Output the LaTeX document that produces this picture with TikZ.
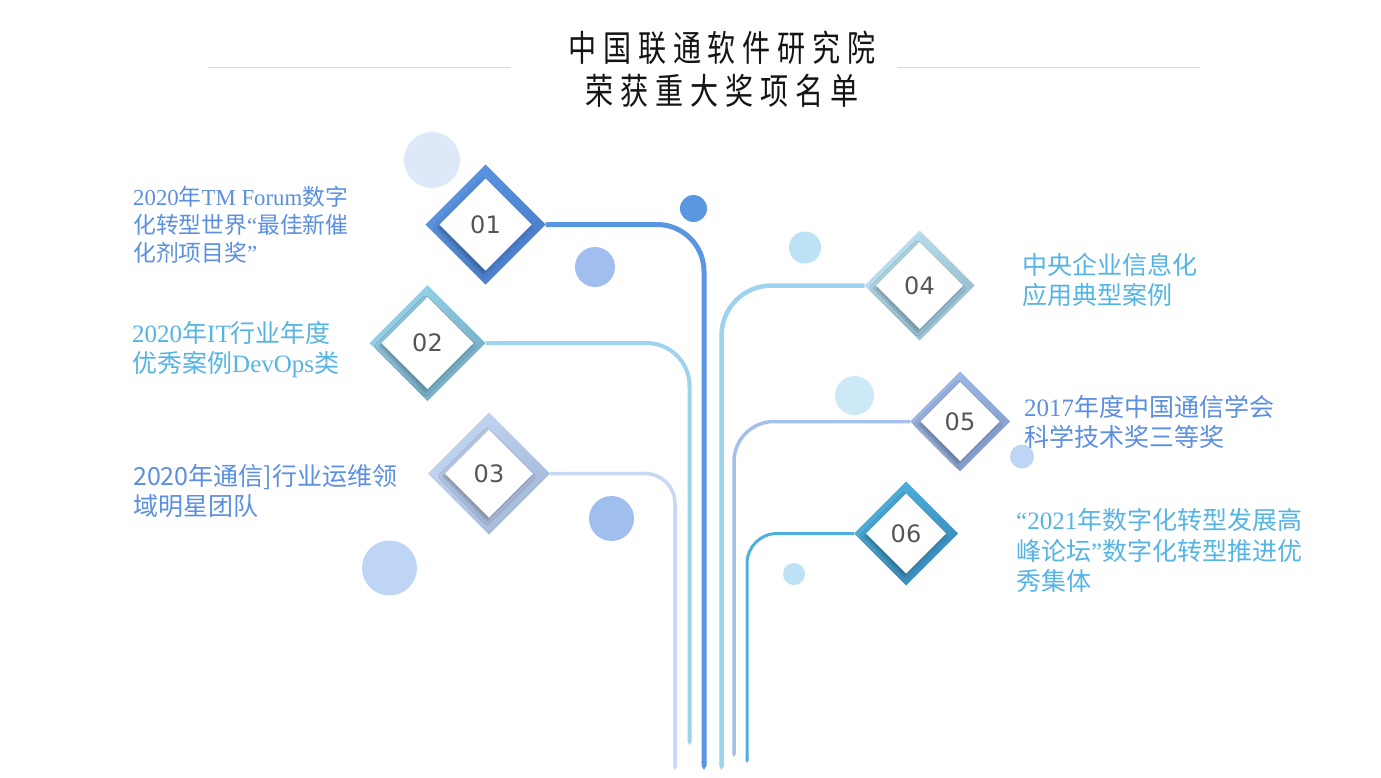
\documentclass[tikz,border=0pt]{standalone}
\usepackage{fontspec}
\setmainfont{Liberation Serif}
\newfontfamily\cjk{Noto Sans CJK SC}
\newfontfamily\titlefont{Noto Sans CJK SC}[FakeStretch=0.78,LetterSpace=19]
\newfontfamily\numfont{DejaVu Sans}
\usetikzlibrary{shapes.geometric,arrows.meta,shadows.blur}
\newcommand\lat[1]{{\rmfamily #1}}
\definecolor{cOne}{HTML}{5B96E1}\definecolor{cOneD}{HTML}{4A7DCB}
\definecolor{cTwo}{HTML}{9AD3EC}\definecolor{cTwoD}{HTML}{74ACC6}
\definecolor{cThree}{HTML}{C3D6F3}\definecolor{cThreeD}{HTML}{A6B8D8}
\definecolor{cFour}{HTML}{BDE2F1}\definecolor{cFourD}{HTML}{93BCCD}
\definecolor{cFive}{HTML}{9FB9E9}\definecolor{cFiveD}{HTML}{879FCD}
\definecolor{cSix}{HTML}{4FB1DE}\definecolor{cSixD}{HTML}{3A8CBB}
\definecolor{lnTwo}{HTML}{9DD3EE}\definecolor{lnThree}{HTML}{C5D8F4}
\definecolor{lnFive}{HTML}{A5C0EC}\definecolor{lnSix}{HTML}{4DB0DD}
\definecolor{numgray}{HTML}{555555}
\definecolor{txtBlue}{HTML}{5B8FE0}\definecolor{txtCyan}{HTML}{56B4E3}
\definecolor{rulegray}{HTML}{DCDCDC}
\definecolor{circA}{HTML}{DDE8F8}\definecolor{circB}{HTML}{A0BFEE}
\definecolor{circC}{HTML}{BFD5F5}\definecolor{circD}{HTML}{BDE2F5}
\definecolor{circE}{HTML}{CDE9F8}
\begin{document}
\begin{tikzpicture}[x=1pt,y=-1pt,
  outerd/.style n args={3}{diamond, aspect=1, inner sep=0pt, outer sep=0pt,
     minimum width=#1, minimum height=#1, top color=#2, bottom color=#3, shading angle=45},
  innerd/.style={diamond, aspect=1, inner sep=0pt, outer sep=0pt, fill=white,
     minimum width=#1, minimum height=#1, text=numgray,
     font=\numfont\fontsize{24}{24}\selectfont,
     blur shadow={shadow xshift=-2pt, shadow yshift=-3pt, shadow blur radius=4pt, shadow opacity=30}},
  conn/.style={line width=#1, -{Triangle Cap[cap angle=60]}},
  dot/.style={circle, inner sep=0pt, outer sep=0pt, minimum size=#1},
  award/.style={anchor=north west, inner sep=0pt, align=left},
  titletext/.style={inner sep=0pt, font=\titlefont\fontsize{36}{36}\selectfont, text=black!92}
]
\useasboundingbox[fill=white] (0,0) rectangle (1381,777);

% title
\node[titletext] (title1) at (722,48) {中国联通软件研究院};
\node[titletext] (title2) at (722,91) {荣获重大奖项名单};
\coordinate (rA1) at (208,67); \coordinate (rA2) at (511,67);
\coordinate (rB1) at (897,67); \coordinate (rB2) at (1200,67);
\draw[rulegray, line width=1pt] (rA1) -- (rA2);
\draw[rulegray, line width=1pt] (rB1) -- (rB2);

% circles
\node[dot=56, fill=circA] (o1) at (432,160) {};
\node[dot=27, fill=cOne] (o2) at (693.5,208.5) {};
\node[dot=40, fill=circB] (o3) at (595,267) {};
\node[dot=45, fill=circB] (o4) at (611.5,518.5) {};
\node[dot=55, fill=circC] (o5) at (389.5,568) {};
\node[dot=32, fill=circD] (o6) at (805,247.5) {};
\node[dot=39, fill=circE] (o7) at (854.5,395.5) {};
\node[dot=24, fill=circC] (o8) at (1022,456.5) {};
\node[dot=22, fill=circD] (o9) at (794,574) {};

% line end points
\coordinate (e1) at (704,770);
\coordinate (e2) at (689.5,745);
\coordinate (e3) at (675,770);
\coordinate (e4) at (721.5,770);
\coordinate (e5) at (734,757);
\coordinate (e6) at (747,763);

% diamonds (outer)
\node[outerd={120}{cOne}{cOneD}] (d1) at (485.5,224.5) {};
\node[outerd={116}{cTwo}{cTwoD}] (d2) at (427.5,343) {};
\node[outerd={122}{cThree}{cThreeD}] (d3) at (489,473.5) {};
\node[outerd={110}{cFour}{cFourD}] (d4) at (919.5,285.5) {};
\node[outerd={100}{cFive}{cFiveD}] (d5) at (960,421.5) {};
\node[outerd={104}{cSix}{cSixD}] (d6) at (906,533.5) {};

% connectors
\draw[conn=5pt, cOne, rounded corners=47pt] (d1.east) -- (d1.east -| e1) -- (e1);
\draw[conn=4pt, lnTwo, rounded corners=43pt] (d2.east) -- (d2.east -| e2) -- (e2);
\draw[conn=3.5pt, lnThree, rounded corners=30pt] (d3.east) -- (d3.east -| e3) -- (e3);
\draw[conn=4.5pt, lnTwo, rounded corners=50pt] (d4.west) -- (d4.west -| e4) -- (e4);
\draw[conn=3.5pt, lnFive, rounded corners=40pt] (d5.west) -- (d5.west -| e5) -- (e5);
\draw[conn=3pt, lnSix, rounded corners=30pt] (d6.west) -- (d6.west -| e6) -- (e6);

% inner diamonds with numbers
\node[innerd=92] (n1) at (d1) {01};
\node[innerd=92] (n2) at (d2) {02};
\node[innerd=88] (n3) at (d3) {03};
\node[innerd=87] (n4) at (d4) {04};
\node[innerd=79] (n5) at (d5) {05};
\node[innerd=80] (n6) at (d6) {06};

% award texts
\node[award, text=txtBlue, font=\cjk\fontsize{22.8}{28}\selectfont] (a1) at (133,182.5)
  {\rule{0pt}{22.8pt}\lat{2020}年\lat{TM Forum}数字\\化转型世界\lat{“}最佳新催\\化剂项目奖\lat{”}};
\node[award, text=txtCyan, font=\cjk\fontsize{25}{30}\selectfont] (a2) at (132,317.5)
  {\rule{0pt}{25pt}\lat{2020}年\lat{IT}行业年度\\优秀案例\lat{DevOps}类};
\node[award, text=txtBlue, font=\cjk\fontsize{25}{29.5}\selectfont] (a3) at (133,460.5)
  {\rule{0pt}{25pt}2020年通信]行业运维领\\域明星团队};
\node[award, text=txtCyan, font=\cjk\fontsize{25}{30}\selectfont] (a4) at (1022,249.5)
  {\rule{0pt}{25pt}中央企业信息化\\应用典型案例};
\node[award, text=txtBlue, font=\cjk\fontsize{25}{30}\selectfont] (a5) at (1024,391.5)
  {\rule{0pt}{25pt}\lat{2017}年度中国通信学会\\科学技术奖三等奖};
\node[award, text=txtCyan, font=\cjk\fontsize{25}{30.5}\selectfont] (a6) at (1016,504.5)
  {\rule{0pt}{25pt}\lat{“2021}年数字化转型发展高\\峰论坛\lat{”}数字化转型推进优\\秀集体};
\end{tikzpicture}
\end{document}
